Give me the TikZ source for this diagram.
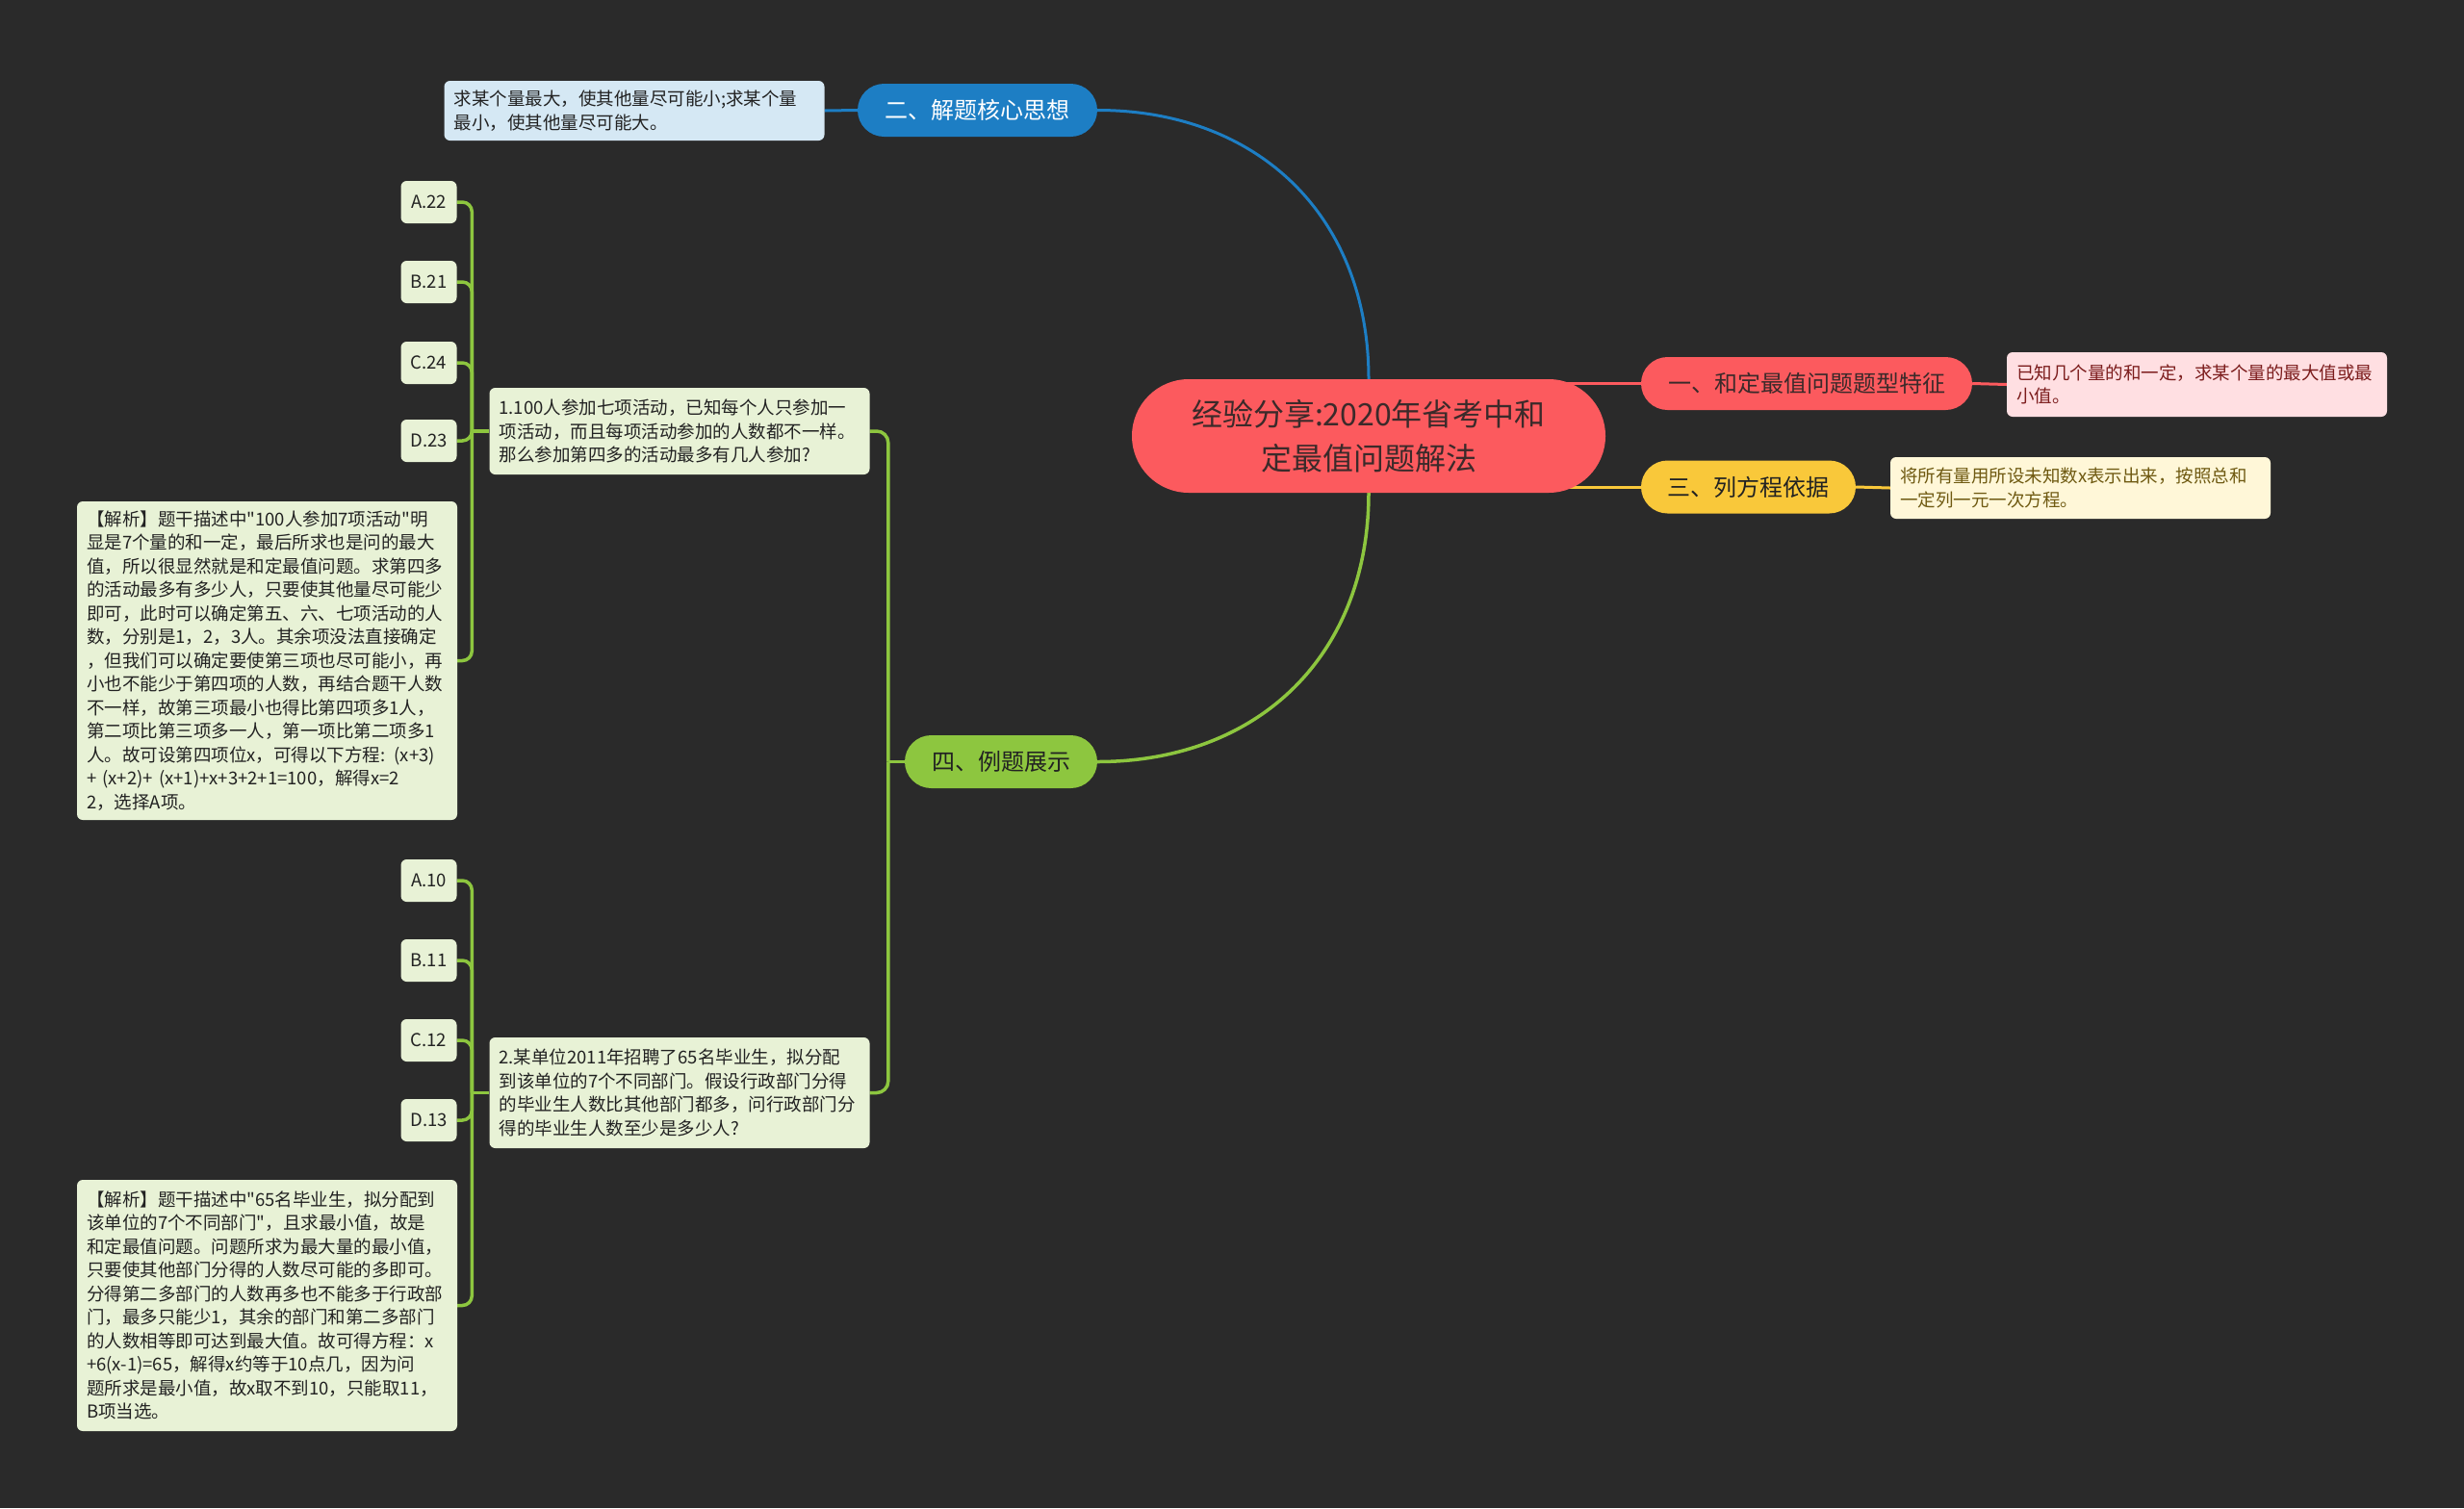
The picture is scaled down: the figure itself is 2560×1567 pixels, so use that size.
\documentclass[tikz,border=0pt]{standalone}
\usepackage{fontspec}
\defaultfontfeatures[\rmfamily]{}
\setmainfont{Noto Sans CJK SC}
\usetikzlibrary{positioning}

\definecolor{bgdark}{HTML}{2A2A2A}
\definecolor{rootred}{HTML}{FC5A5E}
\definecolor{bluebr}{HTML}{1D7EC4}
\definecolor{yellowbr}{HTML}{F9C83A}
\definecolor{greenbr}{HTML}{8DC63F}
\definecolor{blueleaf}{HTML}{D5E8F4}
\definecolor{pinkleaf}{HTML}{FFDFE2}
\definecolor{yellowleaf}{HTML}{FFF7D8}
\definecolor{greenleaf}{HTML}{E8F2D6}
\definecolor{darktxt}{HTML}{222222}
\definecolor{redtxt}{HTML}{7B1C1C}
\definecolor{browntxt}{HTML}{6F5A12}
\definecolor{roottxt}{HTML}{3B2A2A}

\pgfdeclarelayer{back}
\pgfdeclarelayer{bg}
\pgfsetlayers{back,bg,main}

\tikzset{
  rootnode/.style={fill=rootred, text=roottxt, rounded corners=59pt, minimum width=492pt,
    minimum height=118pt, align=center, inner sep=0pt, font=\fontsize{32}{46}\selectfont},
  branch/.style={rounded corners=27.5pt, minimum height=55pt, inner sep=0pt,
    font=\fontsize{24}{28}\selectfont},
  leaf/.style={rounded corners=6pt, align=left, inner xsep=10pt, inner ysep=0pt,
    text width=375pt, font=\fontsize{18.5}{24.5}\selectfont},
  qbox/.style={leaf, fill=greenleaf, text=darktxt},
  optbox/.style={fill=greenleaf, text=darktxt, rounded corners=6pt, minimum width=58pt,
    minimum height=44pt, inner sep=0pt, font=\fontsize{18.5}{22}\selectfont},
  bline/.style={draw=bluebr, line width=3pt},
  rline/.style={draw=rootred, line width=3pt},
  yline/.style={draw=yellowbr, line width=3pt},
  gline/.style={draw=greenbr, line width=3.5pt}
}

\begin{document}
\begin{tikzpicture}[x=1pt, y=-1pt]
\begin{pgfonlayer}{back}
\fill[bgdark] (0,0) rectangle (2560,1567); % background
\end{pgfonlayer}
\useasboundingbox (0,0) rectangle (2560,1567);

% centre
\node[rootnode] (root) at (1422,453) {经验分享:2020年省考中和\\定最值问题解法};

% right side
\node[branch, fill=rootred, text=roottxt, minimum width=344pt] (b1) at (1877,398.5) {一、和定最值问题题型特征};
\node[leaf, fill=pinkleaf, text=redtxt, minimum height=67pt] (l1) at (2282.5,399.5)
  {已知几个量的和一定，求某个量的最大值或最\\
   小值。};
\node[branch, fill=yellowbr, text=darktxt, minimum width=223pt] (b3) at (1816.5,506) {三、列方程依据};
\node[leaf, fill=yellowleaf, text=browntxt, minimum height=64pt] (l3) at (2161.5,507)
  {将所有量用所设未知数x表示出来，按照总和\\
   一定列一元一次方程。};

% top left
\node[branch, fill=bluebr, text=white, minimum width=249pt] (b2) at (1015.5,114.5) {二、解题核心思想};
\node[leaf, fill=blueleaf, text=darktxt, minimum height=62pt] (l2) at (659,115)
  {求某个量最大，使其他量尽可能小;求某个量\\
   最小，使其他量尽可能大。};

% examples
\node[branch, fill=greenbr, text=darktxt, minimum width=200pt] (b4) at (1040,791.5) {四、例题展示};

\node[qbox, minimum height=90pt] (q1) at (706,448)
  {1.100人参加七项活动，已知每个人只参加一\\
   项活动，而且每项活动参加的人数都不一样。\\
   那么参加第四多的活动最多有几人参加?};
\node[optbox] (o1a) at (445.5,210) {A.22};
\node[optbox] (o1b) at (445.5,293) {B.21};
\node[optbox] (o1c) at (445.5,377) {C.24};
\node[optbox] (o1d) at (445.5,458) {D.23};
\node[qbox, minimum height=331pt] (x1) at (277.5,686.5)
  {【解析】题干描述中"100人参加7项活动"明\\
   显是7个量的和一定，最后所求也是问的最大\\
   值，所以很显然就是和定最值问题。求第四多\\
   的活动最多有多少人，只要使其他量尽可能少\\
   即可，此时可以确定第五、六、七项活动的人\\
   数，分别是1，2，3人。其余项没法直接确定\\
   ，但我们可以确定要使第三项也尽可能小，再\\
   小也不能少于第四项的人数，再结合题干人数\\
   不一样，故第三项最小也得比第四项多1人，\\
   第二项比第三项多一人，第一项比第二项多1\\
   人。故可设第四项位x，可得以下方程: (x+3)\\
   + (x+2)+ (x+1)+x+3+2+1=100，解得x=2\\
   2，选择A项。};

\node[qbox, minimum height=115pt] (q2) at (706,1135.5)
  {2.某单位2011年招聘了65名毕业生，拟分配\\
   到该单位的7个不同部门。假设行政部门分得\\
   的毕业生人数比其他部门都多，问行政部门分\\
   得的毕业生人数至少是多少人?};
\node[optbox] (o2a) at (445.5,915) {A.10};
\node[optbox] (o2b) at (445.5,998) {B.11};
\node[optbox] (o2c) at (445.5,1081) {C.12};
\node[optbox] (o2d) at (445.5,1164) {D.13};
\node[qbox, minimum height=261pt] (x2) at (277.5,1356.5)
  {【解析】题干描述中"65名毕业生，拟分配到\\
   该单位的7个不同部门"，且求最小值，故是\\
   和定最值问题。问题所求为最大量的最小值，\\
   只要使其他部门分得的人数尽可能的多即可。\\
   分得第二多部门的人数再多也不能多于行政部\\
   门，最多只能少1，其余的部门和第二多部门\\
   的人数相等即可达到最大值。故可得方程：x\\
   +6(x-1)=65，解得x约等于10点几，因为问\\
   题所求是最小值，故x取不到10，只能取11，\\
   B项当选。};

% connectors
\begin{pgfonlayer}{bg}
\draw[bline] (b2.east) .. controls +(168,0) and +(0,-168) .. (root.north);
\draw[gline] (b4.east) .. controls +(168,0) and +(0,168) .. (root.south);
\draw[rline] (root.center |- b1.west) -- (b1.west);
\draw[yline] (root.center |- b3.west) -- (b3.west);
\draw[bline] (b2.west) -- (l2.east);
\draw[rline] (b1.east) -- (l1.west);
\draw[yline] (b3.east) -- (l3.west);

\coordinate (gj) at ([xshift=-17pt]b4.west);
\draw[gline] (b4.west) -- (gj);
\draw[gline, rounded corners=12pt] (gj) |- (q1.east);
\draw[gline, rounded corners=12pt] (gj) |- (q2.east);

\coordinate (j1) at ([xshift=-18pt]q1.west);
\draw[gline] (q1.west) -- (j1);
\foreach \n in {o1a,o1b,o1c,o1d,x1}
  \draw[gline, rounded corners=10pt] (j1) |- (\n.east);

\coordinate (j2) at ([xshift=-18pt]q2.west);
\draw[gline] (q2.west) -- (j2);
\foreach \n in {o2a,o2b,o2c,o2d,x2}
  \draw[gline, rounded corners=10pt] (j2) |- (\n.east);
\end{pgfonlayer}
\end{tikzpicture}
\end{document}
